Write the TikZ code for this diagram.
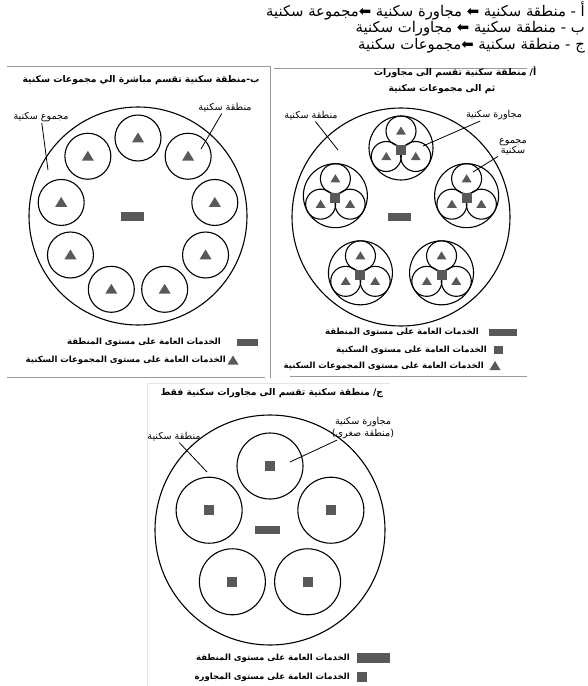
\documentclass[tikz,border=0pt]{standalone}
\usepackage{fontspec}
\newfontfamily\arabicfont[Script=Arabic]{DejaVu Sans}
\TeXXeTstate=1
\usetikzlibrary{calc}

\tikzset{
  ring/.style={line width=1.1pt},
  lead/.style={line width=0.8pt},
  svc/.style={fill=black!65},
  frame/.style={black!40,line width=0.7pt},
  faint/.style={black!10,line width=0.7pt},
  hdr/.style={font=\arabicfont\fontsize{14.8}{16}\selectfont,inner sep=0pt},
  ttl/.style={font=\arabicfont\bfseries\fontsize{9.2}{11}\selectfont,inner sep=0pt},
  lbl/.style={font=\arabicfont\fontsize{9.6}{11}\selectfont,inner sep=1pt},
  leg/.style={font=\arabicfont\bfseries\fontsize{8.5}{10}\selectfont,inner sep=0pt,anchor=east}
}
\newcommand{\svctri}[2]{\fill[svc] (#1) ++(0,-#2) -- ++(1.1*#2,1.8*#2) -- ++(-2.2*#2,0) -- cycle;}
\newcommand{\svcsq}[2]{\fill[svc] (#1) ++(-#2,-#2) rectangle ++(2*#2,2*#2);}

\begin{document}
\begin{tikzpicture}[x=1pt,y=-1pt]
  \useasboundingbox (0,0) rectangle (587,686);

  % header
  \node[hdr,anchor=east] (h1) at (585,11) {\beginR أ - منطقة سكنية ⬅ مجاورة سكنية ⬅مجموعة سكنية\endR};
  \node[hdr,anchor=east] (h2) at (585,29) {\beginR ب - منطقة سكنية ⬅ مجاورات سكنية\endR};
  \node[hdr,anchor=east] (h3) at (585,46) {\beginR ج - منطقة سكنية ⬅مجموعات سكنية\endR};

  % frames
  \draw[frame] (7,66) -- (270,66) -- (270,378);
  \draw[frame] (7,377) -- (265,377);
  \draw[frame] (274,68) -- (527,68);
  \draw[frame] (290,376) -- (527,376);
  \draw[faint] (390,383) -- (147,383) -- (147,686);

  % b: zone split straight into groups
  \node[ttl] (tb) at (141,80) {\beginR ب-منطقة سكنية تقسم مباشرة الي مجموعات سكنية\endR};
  \coordinate (B) at (138,216);
  \draw[ring] (B) circle (109);
  \foreach \a in {90,130,...,410} {
    \coordinate (g) at ($(B)+(-\a:78)$);
    \draw[ring] (g) circle (23);
    \svctri{g}{5.5}
  }
  \fill[svc] (B) ++(-17,-4.5) rectangle ++(23,9);
  \node[lbl] (bz) at (225,108) {\beginR منطقة سكنية\endR};
  \coordinate (bzend) at (201,149);
  \draw[lead] (bz) -- (bzend);
  \node[lbl] (bg) at (41,117) {\beginR مجموع سكنية\endR};
  \coordinate (bgend) at (48,170);
  \draw[lead] (bg) -- (bgend);
  % legend b
  \fill[svc] (237,339) rectangle (258,346);
  \node[leg] (lb1) at (221,342.5) {\beginR الخدمات العامة على مستوى المنطقة\endR};
  \svctri{233,360.5}{5}
  \node[leg] (lb2) at (226,360.5) {\beginR الخدمات العامة على مستوى المجموعات السكنية\endR};

  % a: zone -> neighbourhoods -> groups
  \node[ttl] (ta1) at (455,72) {\beginR أ/ منطقة سكنية تقسم الى مجاورات\endR};
  \node[ttl] (ta2) at (442,89) {\beginR ثم الى مجموعات سكنية\endR};
  \coordinate (A) at (401,217);
  \draw[ring] (A) circle (109);
  \foreach \a in {90,162,234,306,378} {
    \coordinate (n) at ($(A)+(-\a:69)$);
    \draw[ring] (n) circle (32);
    \foreach \b in {90,210,330} {
      \coordinate (m) at ($(n)+(-\b:17)$);
      \draw[ring] (m) circle (15);
      \svctri{m}{4.5}
    }
    \svcsq{$(n)+(0,2)$}{5}
  }
  \fill[svc] (A) ++(-13,-4) rectangle ++(23,8);
  \node[lbl] (az) at (311,116) {\beginR منطقة سكنية\endR};
  \coordinate (azend) at (338,150);
  \draw[lead] (az) -- (azend);
  \node[lbl] (an) at (494,115) {\beginR مجاورة سكنية\endR};
  \coordinate (anend) at (423,146);
  \draw[lead] (an) -- (anend);
  \node[lbl,align=center] (ag) at (513,147) {\beginR مجموع\endR\\[-1pt]\beginR سكنية\endR};
  \coordinate (agend) at (473,172);
  \draw[lead] (ag) -- (agend);
  % legend a
  \fill[svc] (489,329) rectangle (517,336);
  \node[leg] (la1) at (479,332.5) {\beginR الخدمات العامة على مستوى المنطقة\endR};
  \fill[svc] (494,346) rectangle (503,354);
  \node[leg] (la2) at (487,350) {\beginR الخدمات العامة على مستوى السكنية\endR};
  \svctri{495,366}{5}
  \node[leg] (la3) at (484,366) {\beginR الخدمات العامة على مستوى المجموعات السكنية\endR};

  % c: zone split into neighbourhoods only
  \node[ttl] (tc) at (272,393) {\beginR ج/ منطقة سكنية تقسم الى مجاورات سكنية فقط\endR};
  \coordinate (C) at (270,530);
  \draw[ring] (C) circle (115);
  \foreach \a in {90,162,234,306,378} {
    \coordinate (k) at ($(C)+(-\a:64)$);
    \draw[ring] (k) circle (33);
    \svcsq{k}{5}
  }
  \fill[svc] (C) ++(-15,-4) rectangle ++(25,8);
  \node[lbl] (cz) at (174,437) {\beginR منطقة سكنية\endR};
  \coordinate (czend) at (207,472);
  \draw[lead] (cz) -- (czend);
  \node[lbl,align=center] (cn) at (363,428) {\beginR مجاورة سكنية\endR\\[1pt]\beginR (منطقة صغرى)\endR};
  \coordinate (cnend) at (290,462);
  \draw[lead] (cn) -- (cnend);
  % legend c
  \fill[svc] (357,653) rectangle (390,663);
  \node[leg] (lc1) at (350,658) {\beginR الخدمات العامة على مستوى المنطقة\endR};
  \fill[svc] (357,672) rectangle (367,682);
  \node[leg] (lc2) at (350,677) {\beginR الخدمات العامة على مستوى المجاورة\endR};
\end{tikzpicture}
\end{document}
